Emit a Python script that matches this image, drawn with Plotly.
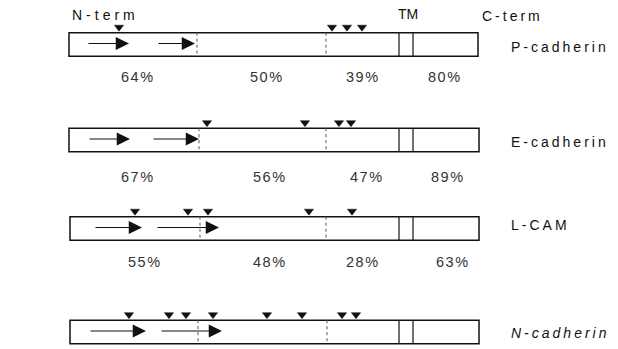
import plotly.graph_objects as go

# ---------------- data (schematic units along the protein) ----------------
proteins = ["P-cadherin", "E-cadherin", "L-CAM", "N-cadherin"]
name_italic = [False, False, False, True]

domain_start = [69, 69, 70, 70]        # N-terminus
divider_1 = [197, 199, 200, 198]       # end of first segment (dotted)
divider_2 = [326, 326, 326, 327]       # start of membrane-proximal segment (dotted)
tm_start = [399, 399, 399, 399]        # transmembrane start
tm_end = [413, 413, 413, 413]          # transmembrane end
domain_end = [478, 479, 479, 479]      # C-terminus

repeat1_start = [87, 88, 94, 89]
repeat1_end = [129, 130, 142, 146]
repeat2_start = [157, 152, 156, 160]
repeat2_end = [195, 199, 219, 222]

glyco_sites = [
    [119, 332, 347, 362],
    [207, 305, 339, 351],
    [135, 188, 208, 309, 352],
    [129, 169, 186, 213, 267, 302, 342, 356],
]

identity_pct = [
    [64, 50, 39, 80],
    [67, 56, 47, 89],
    [55, 48, 28, 63],
]

# ---------------- layout constants ----------------
W, H = 618, 349
row_y = [44.5, 140, 228.5, 332]
half_h = 11.8
glyco_offset = 7.5
pct_label_x = [
    [138, 267, 363, 445],
    [138, 270, 367, 448],
    [145, 270, 363, 453],
]
pct_label_y = [77, 177, 262]
name_label_x = 509
name_label_y = [47, 142, 225, 333]

FONT = "Liberation Sans, Arial, sans-serif"

fig = go.Figure()
shapes = []
annotations = []

for i, name in enumerate(proteins):
    yc = row_y[i]
    y0, y1 = yc - half_h, yc + half_h
    # outer box
    shapes.append(dict(type="rect", xref="x", yref="y",
                       x0=domain_start[i], x1=domain_end[i], y0=y0, y1=y1,
                       line=dict(color="#111", width=1.5), fillcolor="white", layer="below"))
    # dotted dividers
    for xd in (divider_1[i], divider_2[i]):
        shapes.append(dict(type="line", xref="x", yref="y", x0=xd, x1=xd, y0=y0, y1=y1,
                           line=dict(color="#555", width=1, dash="dot")))
    # TM lines
    for xd in (tm_start[i], tm_end[i]):
        shapes.append(dict(type="line", xref="x", yref="y", x0=xd, x1=xd, y0=y0, y1=y1,
                           line=dict(color="#111", width=1.2)))
    # repeat arrows
    arrow_y = yc - 1
    for xs, xe in ((repeat1_start[i], repeat1_end[i]), (repeat2_start[i], repeat2_end[i])):
        annotations.append(dict(x=xe, y=arrow_y, ax=xs, ay=arrow_y, xref="x", yref="y",
                                axref="x", ayref="y", text="", showarrow=True,
                                arrowhead=2, arrowsize=2.3, arrowwidth=1.15,
                                arrowcolor="#111", standoff=0, startstandoff=0))
    # glycosylation sites
    fig.add_trace(go.Scatter(
        x=glyco_sites[i], y=[y0 - glyco_offset + 2] * len(glyco_sites[i]),
        mode="markers", hoverinfo="skip", showlegend=False,
        marker=dict(symbol="triangle-down", size=8, color="#111",
                    line=dict(color="#111", width=0.5))))
    # protein name
    txt = f'<span style="letter-spacing:3px">{name}</span>'
    if name_italic[i]:
        txt = f"<i>{txt}</i>"
    annotations.append(dict(x=name_label_x, y=name_label_y[i], xref="x", yref="y",
                            text=txt, showarrow=False, xanchor="left", yanchor="middle",
                            font=dict(family=FONT, size=14, color="#111")))
    # identity percentages
    if i < len(identity_pct):
        for xp, v in zip(pct_label_x[i], identity_pct[i]):
            annotations.append(dict(x=xp, y=pct_label_y[i], xref="x", yref="y",
                                    text=f'<span style="letter-spacing:1.5px">{v}%</span>',
                                    showarrow=False, xanchor="center", yanchor="middle",
                                    font=dict(family=FONT, size=14.5, color="#333")))

# header labels
annotations.append(dict(x=70, y=15, xref="x", yref="y",
                        text='<span style="letter-spacing:4px">N-term</span>',
                        showarrow=False, xanchor="left", yanchor="middle",
                        font=dict(family=FONT, size=14, color="#111")))
annotations.append(dict(x=408, y=14, xref="x", yref="y", text="TM",
                        showarrow=False, xanchor="center", yanchor="middle",
                        font=dict(family=FONT, size=14, color="#111")))
annotations.append(dict(x=480, y=16, xref="x", yref="y",
                        text='<span style="letter-spacing:3px">C-term</span>',
                        showarrow=False, xanchor="left", yanchor="middle",
                        font=dict(family=FONT, size=14, color="#111")))

fig.update_layout(
    width=W, height=H,
    margin=dict(l=0, r=0, t=0, b=0),
    paper_bgcolor="white", plot_bgcolor="white",
    shapes=shapes, annotations=annotations,
    xaxis=dict(range=[0, W], visible=False, fixedrange=True),
    yaxis=dict(range=[H, 0], visible=False, fixedrange=True),
    showlegend=False,
)

fig.write_html("out.html", config={"displayModeBar": False},
               post_script="document.body.style.margin='0';document.body.style.overflow='hidden';")
